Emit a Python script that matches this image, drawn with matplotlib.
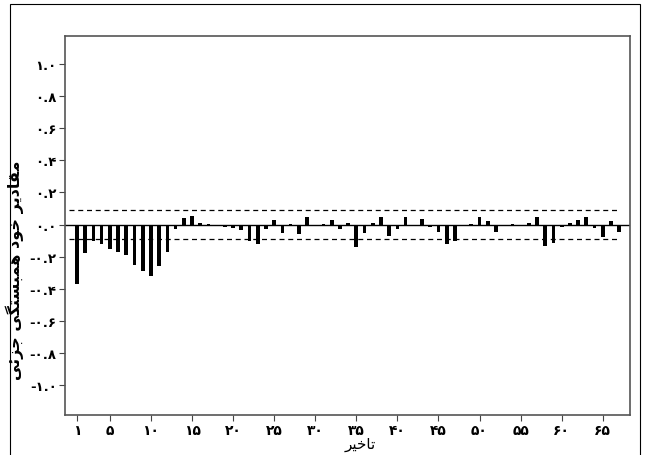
import matplotlib
matplotlib.use('Agg')
import matplotlib.pyplot as plt
import numpy as np
from matplotlib.patches import Rectangle

# partial autocorrelation values, lags 1..67
lags = np.arange(1, 68)
pacf = [-0.37, -0.18, -0.10, -0.12, -0.15, -0.17, -0.19, -0.25, -0.29, -0.32,
        -0.26, -0.17, -0.03, 0.04, 0.055, 0.01, 0.005, -0.008, -0.015, -0.02,
        -0.035, -0.105, -0.12, -0.03, 0.03, -0.05, 0.005, -0.06, 0.045, -0.012,
        0.005, 0.028, -0.025, 0.008, -0.14, -0.05, 0.008, 0.045, -0.07, -0.025,
        0.047, -0.006, 0.035, -0.015, -0.045, -0.12, -0.10, -0.01, 0.006, 0.045,
        0.02, -0.045, -0.006, 0.005, -0.01, 0.008, 0.05, -0.135, -0.115, -0.015,
        0.008, 0.03, 0.05, -0.02, -0.075, 0.02, -0.045]
conf = 0.09
yticks = [-1.0, -0.8, -0.6, -0.4, -0.2, 0.0, 0.2, 0.4, 0.6, 0.8, 1.0]
xticks = [1, 5, 10, 15, 20, 25, 30, 35, 40, 45, 50, 55, 60, 65]
xlabel = 'تاخیر'
ylabel = 'مقادیر خود همبستگی جزئی'

# simple arabic/persian shaping (matplotlib has no complex text layout)
FORMS = {
    'ا': ('\uFE8D', '\uFE8E'), 'د': ('\uFEA9', '\uFEAA'), 'ر': ('\uFEAD', '\uFEAE'),
    'ز': ('\uFEAF', '\uFEB0'), 'و': ('\uFEED', '\uFEEE'),
    'ت': ('\uFE95', '\uFE96', '\uFE97', '\uFE98'),
    'خ': ('\uFEA5', '\uFEA6', '\uFEA7', '\uFEA8'),
    'ی': ('\uFBFC', '\uFBFD', '\uFBFE', '\uFBFF'),
    'م': ('\uFEE1', '\uFEE2', '\uFEE3', '\uFEE4'),
    'ق': ('\uFED5', '\uFED6', '\uFED7', '\uFED8'),
    'ه': ('\uFEE9', '\uFEEA', '\uFEEB', '\uFEEC'),
    'ب': ('\uFE8F', '\uFE90', '\uFE91', '\uFE92'),
    'س': ('\uFEB1', '\uFEB2', '\uFEB3', '\uFEB4'),
    'گ': ('\uFB92', '\uFB93', '\uFB94', '\uFB95'),
    'ج': ('\uFE9D', '\uFE9E', '\uFE9F', '\uFEA0'),
    'ئ': ('\uFE89', '\uFE8A', '\uFE8B', '\uFE8C'),
}


def shape(text):
    out = []
    for i, ch in enumerate(text):
        if ch not in FORMS:
            out.append(ch)
            continue
        prev = text[i - 1] if i > 0 else ''
        nxt = text[i + 1] if i + 1 < len(text) else ''
        jp = prev in FORMS and len(FORMS[prev]) == 4
        jn = nxt in FORMS and len(FORMS[ch]) == 4
        f = FORMS[ch]
        if jp and jn:
            out.append(f[3])
        elif jn:
            out.append(f[2])
        elif jp:
            out.append(f[1])
        else:
            out.append(f[0])
    return ''.join(out)[::-1]


def fa_num(s):
    return s.translate(str.maketrans('0123456789', '۰۱۲۳۴۵۶۷۸۹'))


plt.rcParams['font.family'] = ['DejaVu Sans']

fig = plt.figure(figsize=(6.5, 4.56), dpi=100)
fig.patches.append(Rectangle((10 / 650, -0.01), 630 / 650, 1 - 5 / 456 + 0.01,
                             transform=fig.transFigure, fill=False,
                             edgecolor='black', linewidth=0.8))
ax = fig.add_axes([0.1, 0.0877, 0.869, 0.832])

ax.bar(lags, pacf, width=0.45, color='black')
ax.axhline(0, color='black', linewidth=1)
ax.hlines([conf, -conf], 0, 66.7, colors='black', linestyles=(0, (4, 3)), linewidth=0.9)

ax.set_xlim(-0.46, 68.3)
ax.set_ylim(-1.19, 1.18)
ax.set_yticks(yticks)
ax.set_yticklabels([('-' if v < 0 else '') + fa_num('%.1f' % abs(v)) for v in yticks],
                   fontsize=9.5, fontweight='bold')
ax.set_xticks(xticks)
ax.set_xticklabels([fa_num(str(v)) for v in xticks], fontsize=10, fontweight='bold')
ax.tick_params(direction='out', length=4, color='#444444', pad=2)
for s in ax.spines.values():
    s.set_color('#555555')
    s.set_linewidth(1.2)

ax.set_xlabel(shape(xlabel), fontsize=11)
ax.xaxis.set_label_coords(0.522, -0.055)
ax.set_ylabel(shape(ylabel), fontsize=11.5, fontweight='bold')
ax.yaxis.set_label_coords(-0.072, 0.383)

plt.savefig('out.png', dpi=100)
